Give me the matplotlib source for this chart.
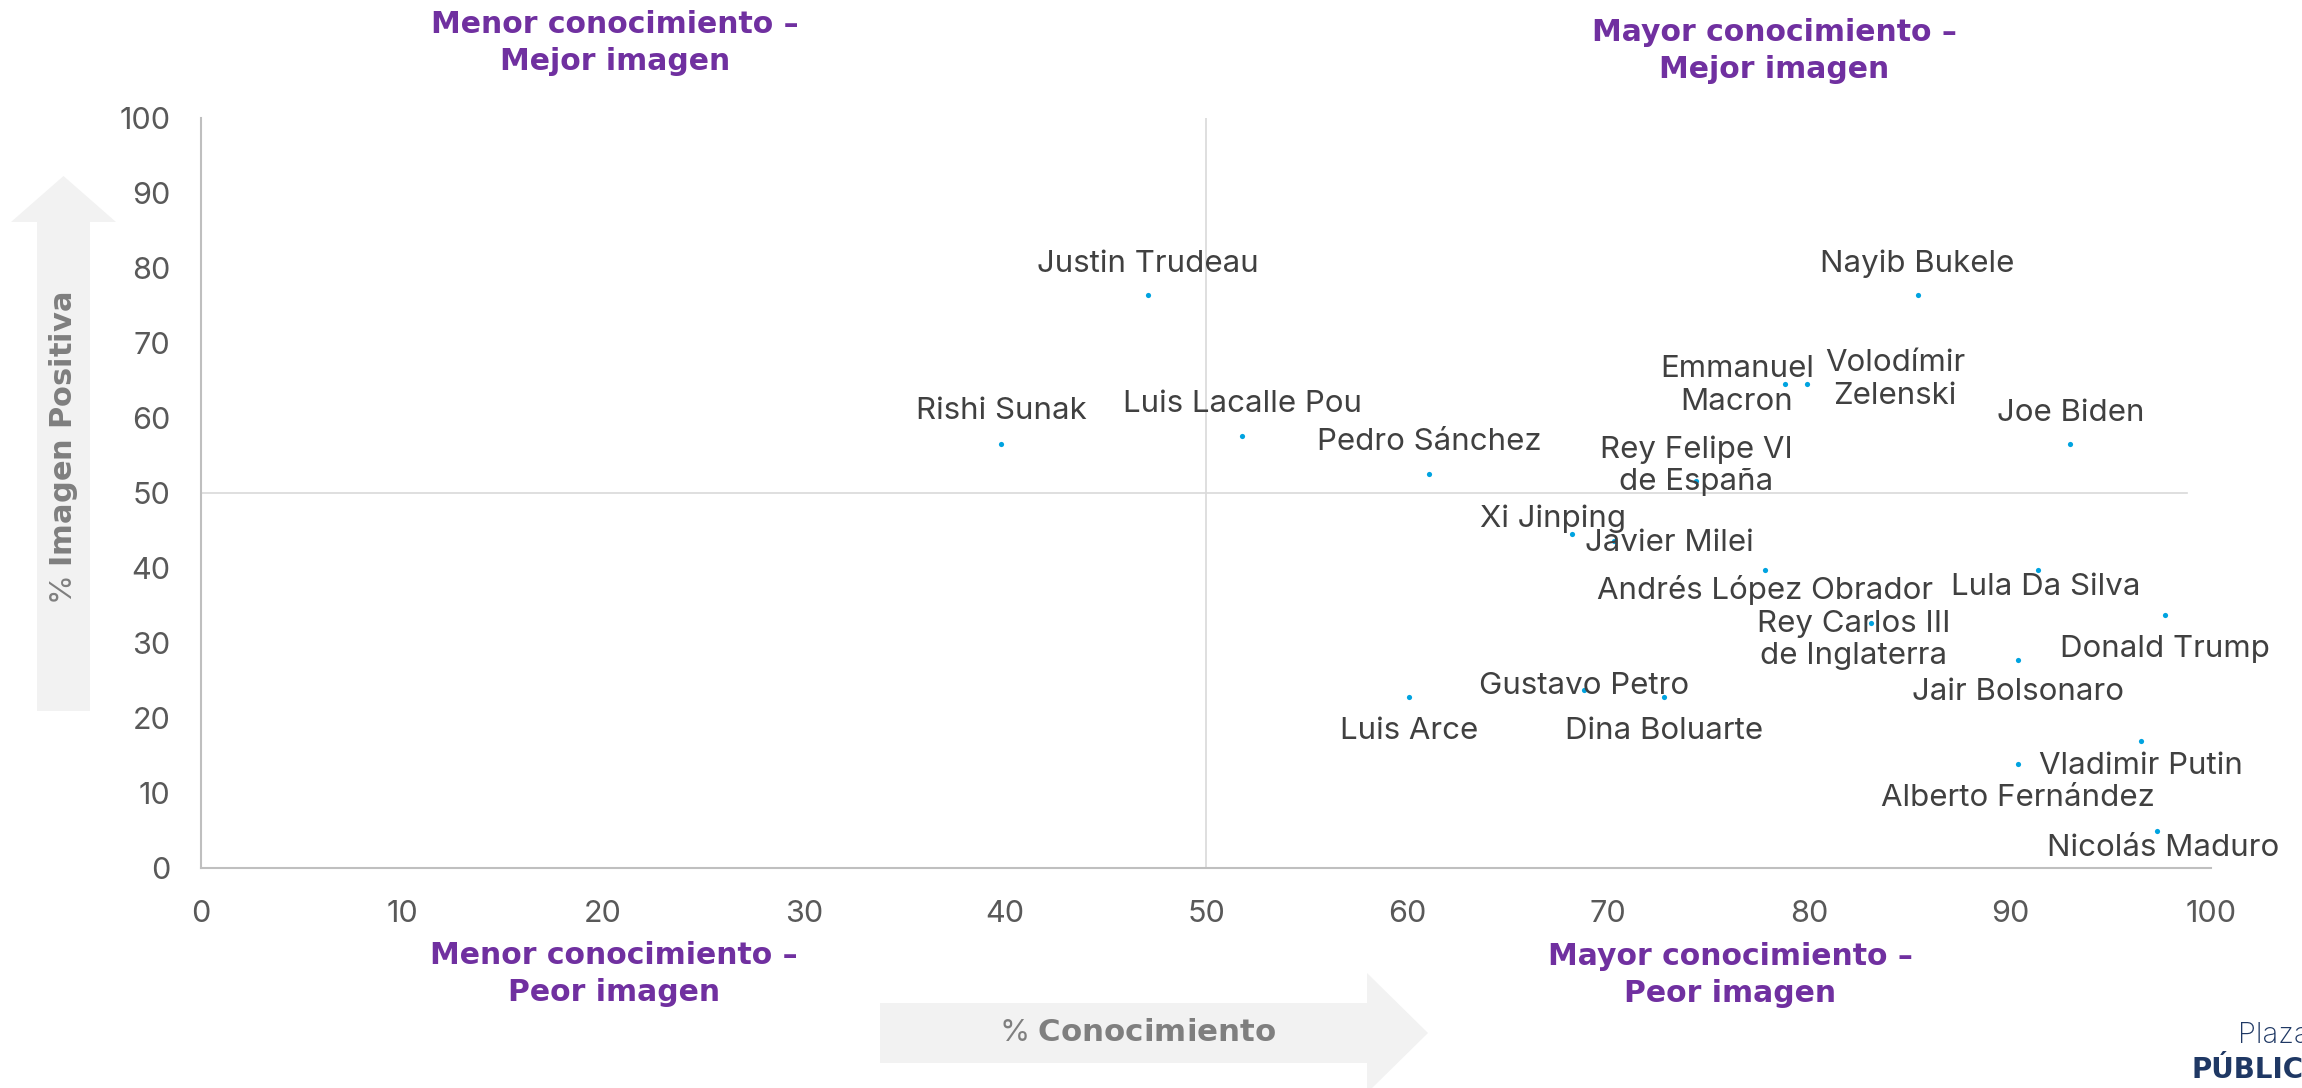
import matplotlib
matplotlib.use('Agg')
import matplotlib.pyplot as plt
from matplotlib.patches import Polygon

# ── Datos ─────────────────────────────────────────────────────────────────────
nombres = [
    'Justin Trudeau', 'Rishi Sunak', 'Luis Lacalle Pou', 'Pedro Sánchez',
    'Nayib Bukele', 'Emmanuel\nMacron', 'Volodímir\nZelenski', 'Joe Biden',
    'Rey Felipe VI\nde España', 'Xi Jinping', 'Javier Milei',
    'Andrés López Obrador', 'Lula Da Silva', 'Donald Trump',
    'Rey Carlos III\nde Inglaterra', 'Jair Bolsonaro', 'Luis Arce',
    'Gustavo Petro', 'Dina Boluarte', 'Vladimir Putin', 'Alberto Fernández',
    'Nicolás Maduro',
]
conocimiento = [47.1, 39.8, 51.8, 61.1, 85.4, 78.8, 79.9, 93.0, 74.4, 68.2, 70.3,
                77.8, 91.4, 97.7, 83.1, 90.4, 60.1, 68.8, 72.8, 96.5, 90.4, 97.3]
imagen_positiva = [76.4, 56.5, 57.6, 52.6, 76.4, 64.6, 64.6, 56.5, 51.6, 44.6, 43.6,
                   39.7, 39.7, 33.7, 32.7, 27.8, 22.8, 23.8, 22.8, 16.9, 13.9, 5.0]

ticks = list(range(0, 101, 10))

# desplazamiento de cada etiqueta respecto a su punto (pixeles, y hacia arriba)
offsets = [(0, 31), (0, 33), (0, 32), (0, 31), (0, 31), (-48, -2), (88, 4), (0, 31),
           (0, 15), (-19, 15), (55, -2), (0, -20), (8, -17), (0, -34), (-18, -17),
           (0, -33), (0, -34), (0, 4), (0, -34), (0, -25), (0, -34), (6, -18)]

# ── Estilo ────────────────────────────────────────────────────────────────────
FONT     = ['Inter', 'DejaVu Sans']
BOLD     = ['DejaVu Sans']
PURPLE   = '#7030A0'
DOT      = '#00A3E0'
TXT      = '#404040'
ARROW_BG = '#F2F2F2'
ARROW_TX = '#7F7F7F'
NAVY     = '#1F3864'

plt.rcParams['font.family'] = FONT

W, H = 2302, 1088
fig = plt.figure(figsize=(W / 100, H / 100), dpi=100)
fig.patch.set_facecolor('white')


def fx(px):
    return px / W


def fy(py):
    return 1 - py / H


ax = fig.add_axes([fx(201), fy(868), fx(2211) - fx(201), fy(118) - fy(868)])
ax.set_xlim(0, 100)
ax.set_ylim(0, 100)

# líneas de cuadrante
ax.axvline(50, color='#D9D9D9', lw=1.2, zorder=1)
ax.axhline(50, xmax=0.988, color='#D9D9D9', lw=1.2, zorder=1)

ax.scatter(conocimiento, imagen_positiva, s=14, color=DOT, zorder=3, linewidths=0)

for name, x, y, (dx, dy) in zip(nombres, conocimiento, imagen_positiva, offsets):
    ax.annotate(name, (x, y), xytext=(dx, dy), textcoords='offset pixels',
                ha='center', va='center', multialignment='center',
                fontsize=22.5, color=TXT, linespacing=1.2, zorder=4)

ax.set_xticks(ticks)
ax.set_yticks(ticks)
ax.tick_params(length=0, labelsize=22, labelcolor='#595959')
ax.tick_params(axis='x', pad=23)
ax.tick_params(axis='y', pad=22)
for side in ['top', 'right']:
    ax.spines[side].set_visible(False)
for side in ['left', 'bottom']:
    ax.spines[side].set_color('#BFBFBF')
    ax.spines[side].set_linewidth(1.5)

# ── Títulos de cuadrante ─────────────────────────────────────────────────────
quad = [
    (615, 43, 'Menor conocimiento –\nMejor imagen'),
    (1774, 51, 'Mayor conocimiento –\nMejor imagen'),
    (614, 974, 'Menor conocimiento –\nPeor imagen'),
    (1730, 975, 'Mayor conocimiento –\nPeor imagen'),
]
for px, py, t in quad:
    fig.text(fx(px), fy(py), t, ha='center', va='center', multialignment='center',
             fontsize=21.5, fontweight='bold', family=BOLD, color=PURPLE,
             linespacing=1.35)

# ── Flechas de ejes ──────────────────────────────────────────────────────────
up = [(37, 711), (37, 222), (11, 222), (63.5, 176), (116, 222), (90, 222), (90, 711)]
right = [(880, 1003), (1367, 1003), (1367, 973), (1428, 1033), (1367, 1093),
         (1367, 1063), (880, 1063)]
for pts in (up, right):
    fig.patches.append(Polygon([(fx(a), fy(b)) for a, b in pts], closed=True,
                               transform=fig.transFigure, facecolor=ARROW_BG,
                               edgecolor='none', zorder=0))

fig.text(fx(64), fy(448), r'% $\bf{Imagen\ Positiva}$', rotation=90,
         ha='center', va='center', fontsize=22, color=ARROW_TX)
fig.text(fx(1138), fy(1033), r'% $\bf{Conocimiento}$',
         ha='center', va='center', fontsize=22.2, color=ARROW_TX)

# ── Logo (cortado en el borde) ───────────────────────────────────────────────
fig.text(fx(2238), fy(1043), 'Plaza', ha='left', va='baseline',
         fontsize=21, fontweight='light', color=NAVY)
fig.text(fx(2192), fy(1078), 'PÚBLICA', ha='left', va='baseline',
         fontsize=20, fontweight='bold', family=BOLD, color=NAVY)

fig.savefig('out.png', dpi=100, facecolor='white')
